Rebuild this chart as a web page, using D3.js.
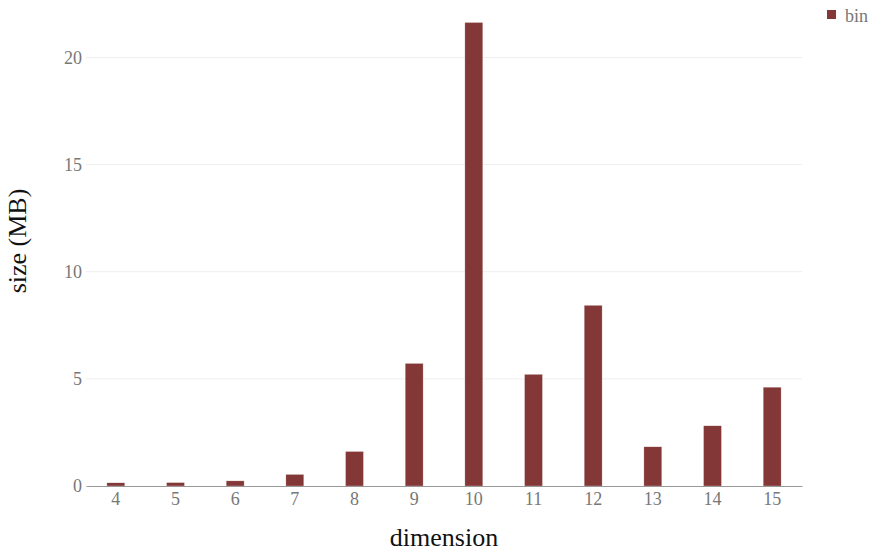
<!DOCTYPE html>
<html>
<head>
<meta charset="utf-8">
<script src="https://cdn.jsdelivr.net/npm/d3@7"></script>
<style>
  body { margin: 0; background: #fff; }
  svg { font-family: "Liberation Serif", "DejaVu Serif", serif; }
</style>
</head>
<body>
<div id="chart-area"></div>
<script>
const dimensions = [4, 5, 6, 7, 8, 9, 10, 11, 12, 13, 14, 15];
const sizes = [0.15, 0.16, 0.24, 0.54, 1.61, 5.72, 21.63, 5.21, 8.43, 1.83, 2.81, 4.61];
const yTicks = [0, 5, 10, 15, 20];
const seriesName = "bin";

const margin = { top: 18, right: 72, bottom: 67, left: 86 };
const width = 874 - margin.left - margin.right;
const height = 553 - margin.top - margin.bottom;

const svg = d3.select("#chart-area")
  .append("svg")
    .attr("width", 874)
    .attr("height", 553);

const chart = svg.append("g")
    .attr("transform", `translate(${margin.left},${margin.top})`);

const xScale = d3.scaleBand()
  .domain(dimensions)
  .range([0, width])
  .paddingInner(0.7)
  .paddingOuter(0.35);

const yScale = d3.scaleLinear()
  .domain([0, 21.84])
  .range([height, 0]);

// gridlines
chart.append("g")
  .selectAll("line")
  .data(yTicks.filter(d => d > 0))
  .join("line")
    .attr("x1", 0)
    .attr("x2", width)
    .attr("y1", d => yScale(d))
    .attr("y2", d => yScale(d))
    .attr("stroke", "#eeeeee")
    .attr("stroke-width", 1);

// y axis labels
const yAxis = chart.append("g")
    .call(d3.axisLeft(yScale).tickValues(yTicks).tickSize(0).tickPadding(4));
yAxis.select(".domain").remove();
yAxis.selectAll("text")
    .style("font-family", "Liberation Serif, serif")
    .style("font-size", "18px")
    .attr("fill", "#777777");

// bars
chart.selectAll(".bar")
  .data(dimensions)
  .join("rect")
    .attr("class", "bar")
    .attr("x", (d, i) => xScale(d))
    .attr("width", xScale.bandwidth())
    .attr("y", (d, i) => yScale(sizes[i]))
    .attr("height", (d, i) => height - yScale(sizes[i]))
    .attr("fill", "#833737")
    .attr("stroke", "rgba(255,255,255,0.5)")
    .attr("stroke-width", 0.5);

// x axis
const xAxis = chart.append("g")
    .attr("transform", `translate(0,${height})`)
    .call(d3.axisBottom(xScale).tickSize(0).tickPadding(6));
xAxis.select(".domain").attr("stroke", "#999999");
xAxis.selectAll("text")
    .style("font-family", "Liberation Serif, serif")
    .style("font-size", "18px")
    .attr("fill", "#777777");

// axis titles
chart.append("text")
    .attr("x", width / 2)
    .attr("y", height + 60)
    .attr("text-anchor", "middle")
    .style("font-size", "26px")
    .attr("fill", "#111")
    .text("dimension");

chart.append("text")
    .attr("transform", "rotate(-90)")
    .attr("x", -223)
    .attr("y", -60)
    .attr("text-anchor", "middle")
    .style("font-size", "26px")
    .attr("fill", "#111")
    .text("size (MB)");

// legend
const legend = svg.append("g")
    .attr("transform", "translate(827,10)");
legend.append("rect")
    .attr("width", 9)
    .attr("height", 9)
    .attr("fill", "#833737");
legend.append("text")
    .attr("x", 18)
    .attr("y", 12)
    .style("font-size", "18px")
    .attr("fill", "#777777")
    .text(seriesName);
</script>
</body>
</html>
